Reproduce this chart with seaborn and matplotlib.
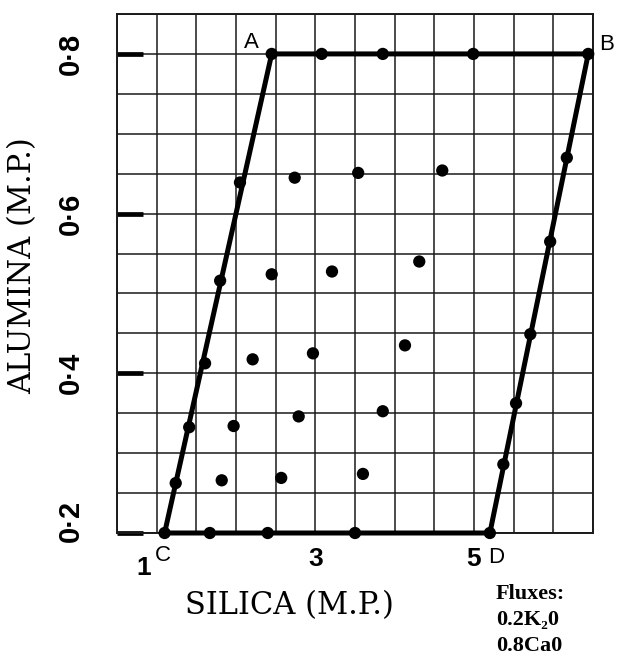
import numpy as np
import matplotlib
matplotlib.use("Agg")
import matplotlib.pyplot as plt
import matplotlib.transforms as mtransforms
import pandas as pd
import seaborn as sns

# Boundary of the glaze field, traced A -> B -> D -> C -> A
boundary_silica = [2.45, 6.44, 5.20, 1.10, 2.45]
boundary_alumina = [0.80, 0.80, 0.20, 0.20, 0.80]

# Test glazes lying on the boundary
edge_silica = [2.45, 3.08, 3.85, 4.99, 6.44, 6.17, 5.96, 5.71, 5.53, 5.37,
               5.20, 3.50, 2.40, 1.67, 1.10, 1.24, 1.41, 1.61, 1.80, 2.05]
edge_alumina = [0.80, 0.80, 0.80, 0.80, 0.80, 0.670, 0.565, 0.449, 0.3625, 0.286,
                0.20, 0.20, 0.20, 0.20, 0.20, 0.2625, 0.3325, 0.4125, 0.516, 0.639]

# Test glazes inside the field
inner_silica = [2.74, 3.54, 4.60, 2.45, 3.21, 4.31, 2.21, 2.97, 4.13,
                1.97, 2.79, 3.85, 1.82, 2.57, 3.60]
inner_alumina = [0.645, 0.651, 0.654, 0.524, 0.5275, 0.540, 0.4175, 0.425, 0.435,
                 0.334, 0.346, 0.3525, 0.266, 0.269, 0.274]

# Corner letters
corner_names = ["A", "B", "C", "D"]
corner_silica = [2.45, 6.44, 1.10, 5.20]
corner_alumina = [0.80, 0.80, 0.20, 0.20]

x_ticks = [1, 3, 5]
x_labels = ["1", "3", "5"]
y_ticks = [0.2, 0.4, 0.6, 0.8]
y_labels = ["0·2", "0·4", "0·6", "0·8"]
flux_lines = ["Fluxes:", "0.2K\u20820", "0.8Ca0"]

boundary = pd.DataFrame({"silica": boundary_silica, "alumina": boundary_alumina})
points = pd.DataFrame({"silica": edge_silica + inner_silica,
                       "alumina": edge_alumina + inner_alumina})

sns.set_style("white")
plt.rcParams["font.family"] = ["DejaVu Sans"]
for key in ("text.color", "axes.labelcolor", "xtick.color", "ytick.color"):
    plt.rcParams[key] = "black"

fig = plt.figure(figsize=(6.19, 6.64), dpi=100)
ax = fig.add_axes([117 / 619, 131 / 664, 476 / 619, 519 / 664])

sns.lineplot(data=boundary, x="silica", y="alumina", sort=False, estimator=None,
             color="black", linewidth=3.6, ax=ax, clip_on=False, zorder=4)
sns.scatterplot(data=points, x="silica", y="alumina", color="black", s=78,
                edgecolor="none", ax=ax, clip_on=False, zorder=5)

ax.set_xlim(0.5, 6.5)
ax.set_ylim(0.2, 0.85)

# Graph-paper grid
ax.set_xticks(np.arange(0.5, 6.51, 0.5), minor=True)
ax.set_yticks(np.arange(0.2, 0.851, 0.05), minor=True)
ax.grid(which="both", color="#1a1a1a", linewidth=1.1)
ax.set_axisbelow(True)
for sp in ax.spines.values():
    sp.set_color("#1a1a1a")
    sp.set_linewidth(1.4)

ax.set_xticks(x_ticks)
ax.set_xticklabels(x_labels, fontfamily="Liberation Sans", fontweight="bold", fontsize=19)
ax.set_yticks(y_ticks)
ax.set_yticklabels(y_labels, fontfamily="Liberation Sans", fontweight="bold", fontsize=21,
                   rotation=90, va="center")
ax.tick_params(axis="x", which="both", bottom=False, length=0, pad=10)
ax.tick_params(axis="y", which="major", left=True, direction="in", length=19, width=3.4,
               color="black", pad=23)
ax.tick_params(axis="y", which="minor", length=0)

# Nudge the "1" clear of the corner letter C
lab1 = ax.xaxis.get_major_ticks()[0].label1
lab1.set_transform(lab1.get_transform() +
                   mtransforms.ScaledTranslation(-0.13, -0.09, fig.dpi_scale_trans))
# Lift the lowest alumina label off the corner
lab02 = ax.yaxis.get_major_ticks()[0].label1
lab02.set_transform(lab02.get_transform() +
                    mtransforms.ScaledTranslation(0, 0.12, fig.dpi_scale_trans))

ax.set_xlabel("SILICA (M.P.)", fontfamily="DejaVu Serif", fontsize=22)
ax.xaxis.set_label_coords(0.363, -0.11)
ax.set_ylabel("ALUMINA (M.P.)", fontfamily="DejaVu Serif", fontsize=22)
ax.yaxis.set_label_coords(-0.166, 0.516)

offsets = {"A": (-14.5, 8.5), "B": (13.5, 7), "C": (-1.5, -16), "D": (4.5, -17.5)}
for name, sx, al in zip(corner_names, corner_silica, corner_alumina):
    ax.annotate(name, (sx, al), xytext=offsets[name], textcoords="offset points",
                ha="center", va="center", fontsize=16, fontfamily="Liberation Sans",
                annotation_clip=False)

for i, line in enumerate(flux_lines):
    fig.text(496 / 619, 1 - (594 + 26 * i) / 664, line, ha="left", va="center",
             fontsize=16, fontweight="bold",
             family=["Liberation Serif", "DejaVu Serif"])

fig.savefig("out.png", dpi=100)
